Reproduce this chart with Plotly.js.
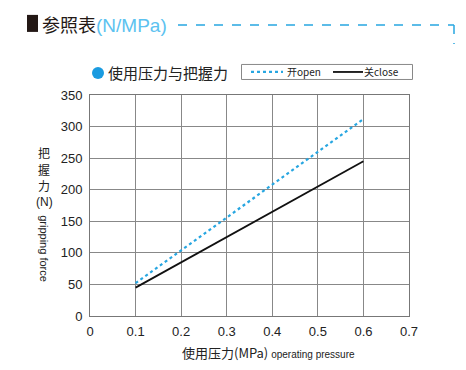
<!DOCTYPE html>
<html><head><meta charset="utf-8">
<script src="https://cdn.plot.ly/plotly-3.0.1.min.js"></script>
<style>body{margin:0;background:#fff}#c{width:466px;height:370px}</style>
</head><body><div id="c"></div>
<script>
const pressure = [0.1, 0.6];
const openForce = [52, 312];
const closeForce = [45, 245];
const seriesNames = ['开open', '关close'];
const xTicks = [0, 0.1, 0.2, 0.3, 0.4, 0.5, 0.6, 0.7];
const yTicks = [0, 50, 100, 150, 200, 250, 300, 350];

const L = 90, R = 409, T = 95, B = 315.7;
const px = v => (v - L) / (R - L);
const py = v => (B - v) / (B - T);
const cjk = '"Noto Sans CJK SC", "Noto Sans", sans-serif';
const lat = '"Liberation Sans", Arial, sans-serif';
const blue = '#27a6e1';

const traces = [
  {x: pressure, y: openForce, mode: 'lines', name: seriesNames[0],
   line: {color: blue, width: 2.2, dash: 'dot'}},
  {x: pressure, y: closeForce, mode: 'lines', name: seriesNames[1],
   line: {color: '#111', width: 1.8}}
];

const ann = (x, y, text, font, extra) => Object.assign({xref: 'paper', yref: 'paper',
  x: px(x), y: py(y), xanchor: 'left', yanchor: 'middle', showarrow: false, text, font}, extra || {});

const layout = {
  width: 466, height: 370,
  margin: {l: L, r: 466 - R, t: T, b: 370 - B},
  paper_bgcolor: '#fff', plot_bgcolor: '#fff',
  font: {family: lat, size: 13, color: '#222'},
  showlegend: false,
  xaxis: {range: [0, 0.7], tickvals: xTicks, ticktext: xTicks.map(String),
    showgrid: true, gridcolor: '#888', gridwidth: 1, zeroline: false,
    showline: true, linecolor: '#777', mirror: true, ticks: '', ticklabelstandoff: 3,
    tickfont: {family: lat, size: 13, color: '#222'}},
  yaxis: {range: [0, 350], tickvals: yTicks, ticktext: yTicks.map(String),
    showgrid: true, gridcolor: '#888', gridwidth: 1, zeroline: false,
    showline: true, linecolor: '#777', mirror: true, ticks: '', ticklabelstandoff: 4,
    tickfont: {family: lat, size: 13, color: '#222'}},
  shapes: [
    {type: 'rect', xref: 'paper', yref: 'paper', x0: px(27), x1: px(38), y0: py(15), y1: py(32),
     fillcolor: '#231815', line: {width: 0}},
    {type: 'line', xref: 'paper', yref: 'paper', x0: px(178), x1: px(454), y0: py(25), y1: py(25),
     line: {color: blue, width: 1.5, dash: 'dash'}},
    {type: 'line', xref: 'paper', yref: 'paper', x0: px(454), x1: px(454), y0: py(25), y1: py(44),
     line: {color: blue, width: 1.5, dash: 'dash'}},
    {type: 'circle', xref: 'paper', yref: 'paper', x0: px(92), x1: px(104), y0: py(67), y1: py(79),
     fillcolor: '#1a9be0', line: {width: 0}},
    // legend box
    {type: 'rect', xref: 'paper', yref: 'paper', x0: px(241.5), x1: px(412.5), y0: py(64.5), y1: py(79.5),
     fillcolor: 'rgba(0,0,0,0)', line: {color: '#888', width: 1}},
    {type: 'line', xref: 'paper', yref: 'paper', x0: px(251), x1: px(283), y0: py(72), y1: py(72),
     line: {color: blue, width: 2.2, dash: 'dot'}},
    {type: 'line', xref: 'paper', yref: 'paper', x0: px(333), x1: px(363), y0: py(72), y1: py(72),
     line: {color: '#111', width: 1.8}}
  ],
  annotations: [
    ann(40, 24, '参照表<span style="color:#5cc2f0;font-family:Liberation Sans;font-size:19px">(N/MPa)</span>',
      {family: cjk, size: 18, color: '#231815'}),
    ann(106, 72.5, '使用压力与把握力', {family: cjk, size: 15, color: '#222'}),
    ann(285, 72, seriesNames[0], {family: cjk, size: 10, color: '#222'}),
    ann(362, 72, seriesNames[1], {family: cjk, size: 10, color: '#222'}),
    ann(44, 152, '把', {family: cjk, size: 12, color: '#222'}, {xanchor: 'center'}),
    ann(44, 169, '握', {family: cjk, size: 12, color: '#222'}, {xanchor: 'center'}),
    ann(44, 185, '力', {family: cjk, size: 12, color: '#222'}, {xanchor: 'center'}),
    ann(44, 202, '(N)', {family: lat, size: 12, color: '#222'}, {xanchor: 'center'}),
    ann(44, 248, 'gripping force', {family: lat, size: 11, color: '#222'}, {xanchor: 'center', textangle: 90}),
    ann(268, 352, '使用压力(MPa) <span style="font-size:10px;font-family:Liberation Sans">operating pressure</span>',
      {family: cjk, size: 13, color: '#222'}, {xanchor: 'center'})
  ]
};

Plotly.newPlot('c', traces, layout, {displayModeBar: false, staticPlot: true});
</script></body></html>
